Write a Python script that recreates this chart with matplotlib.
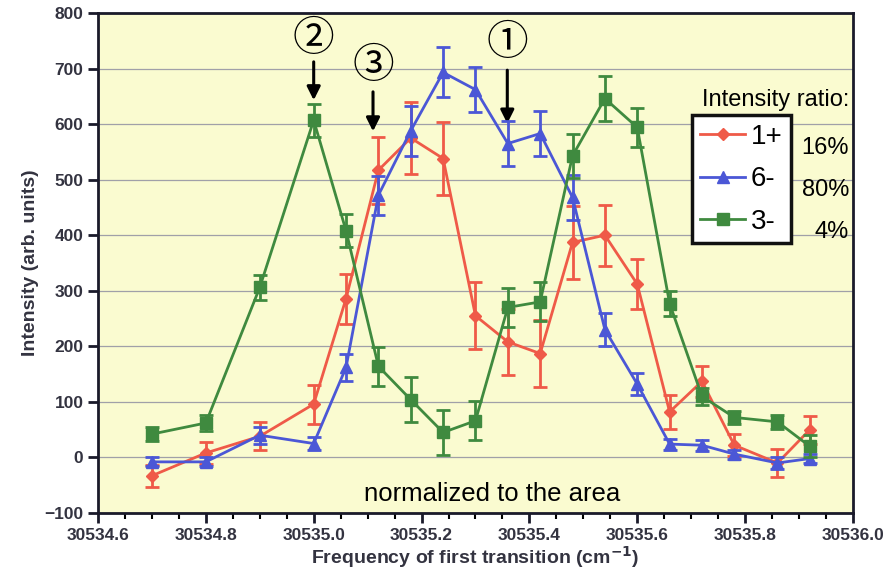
import numpy as np
import matplotlib.pyplot as plt
from matplotlib.lines import Line2D
from matplotlib.ticker import MultipleLocator

plt.rcParams['font.family'] = ['Liberation Sans', 'DejaVu Sans', 'Noto Sans CJK JP']

# frequency of first transition (cm-1)
freq = [30534.70, 30534.80, 30534.90, 30535.00, 30535.06, 30535.12, 30535.18,
        30535.24, 30535.30, 30535.36, 30535.42, 30535.48, 30535.54, 30535.60,
        30535.66, 30535.72, 30535.78, 30535.86, 30535.92]

# 1+ (red diamonds)
y_1p = [-33, 8, 38, 96, 286, 517, 575, 538, 255, 208, 187, 387, 400, 312,
        82, 137, 22, -10, 50]
e_1p = [20, 20, 25, 35, 45, 60, 65, 65, 60, 60, 60, 65, 55, 45, 30, 28, 20, 25, 25]

# 6- (blue triangles)
y_6m = [-8, -8, 40, 25, 162, 472, 588, 693, 662, 565, 583, 468, 230, 132,
        24, 22, 6, -10, -2]
e_6m = [8, 8, 15, 12, 25, 35, 45, 45, 40, 40, 40, 40, 30, 20, 10, 10, 8, 10, 8]

# 3- (green squares)
y_3m = [42, 62, 306, 607, 408, 164, 104, 45, 66, 270, 280, 543, 646, 594,
        277, 110, 72, 64, 20]
e_3m = [12, 15, 22, 30, 30, 35, 40, 40, 35, 35, 35, 40, 40, 35, 22, 15, 12, 12, 20]

labels = ['1+', '6-', '3-']
ratios = ['16%', '80%', '4%']
colors = ['#ef5a48', '#4b57d6', '#3f8a3f']
markers = ['D', '^', 's']
msizes = [6, 8, 9]

fig = plt.figure(figsize=(8.94, 5.84), dpi=100)
ax = fig.add_axes([0.1096, 0.1216, 0.8445, 0.8562])
ax.set_facecolor('#fafbd0')

series = [(y_1p, e_1p), (y_6m, e_6m), (y_3m, e_3m)]
order = [2, 0, 1]
for i in order:
    y, e = series[i]
    ax.errorbar(freq, y, yerr=e, color=colors[i], marker=markers[i], ms=msizes[i],
                lw=2, elinewidth=2, capsize=5, capthick=2, zorder=3 + i)

ax.set_xlim(30534.6, 30536.0)
ax.set_ylim(-100, 800)
ax.xaxis.set_major_locator(MultipleLocator(0.2))
ax.xaxis.set_minor_locator(MultipleLocator(0.05))
ax.yaxis.set_major_locator(MultipleLocator(100))
ax.xaxis.set_major_formatter(plt.FuncFormatter(lambda v, p: f'{v:.1f}'))
ax.grid(axis='y', color='#a0a0a8', lw=0.9)
ax.set_axisbelow(True)
for s in ax.spines.values():
    s.set_linewidth(2)
    s.set_color('#1a1a2a')
ax.tick_params(axis='both', which='major', direction='out', length=7, width=2,
               labelsize=12.5, colors='#1a1a2a')
ax.tick_params(axis='x', which='minor', direction='out', length=4, width=1.5)
for lab in ax.get_xticklabels() + ax.get_yticklabels():
    lab.set_fontweight('bold')
    lab.set_color('#333340')

ax.set_xlabel('Frequency of first transition (cm$^{\\mathbf{-1}}$)', fontsize=14,
              fontweight='bold', color='#333340', labelpad=1)
ax.set_ylabel('Intensity (arb. units)', fontsize=14, fontweight='bold',
              color='#333340', labelpad=4)

handles = [Line2D([], [], color=colors[i], marker=markers[i], ms=msizes[i], lw=2)
           for i in range(3)]
leg = ax.legend(handles, labels, loc='upper left', bbox_to_anchor=(0.787, 0.795),
                fontsize=20, frameon=True, fancybox=False, handlelength=1.6,
                handletextpad=0.2, borderpad=0.3, labelspacing=0.6,
                borderaxespad=0)
leg.get_frame().set_edgecolor('#111111')
leg.get_frame().set_linewidth(2.5)
leg.get_frame().set_facecolor('white')
leg.get_frame().set_alpha(1)

ax.text(0.995, 0.826, 'Intensity ratio:', transform=ax.transAxes, fontsize=17,
        ha='right', va='center')
for k, r in enumerate(ratios):
    ax.text(0.995, 0.73 - k * 0.084, r, transform=ax.transAxes, fontsize=17,
            ha='right', va='center')

ax.text(30535.331, -66, 'normalized to the area', fontsize=18.5, ha='center', va='center')

# peak annotations: circled number, x, circle centre, top of arrow, tip of arrow
notes = [('\u2460', 30535.359, 745, 702, 596), ('\u2461', 30535.00, 753, 717, 638),
         ('\u2462', 30535.11, 704, 663, 582)]
for txt, xv, yc, y0, y1 in notes:
    ax.annotate('', xy=(xv, y1), xytext=(xv, y0),
                arrowprops=dict(arrowstyle='-|>', color='black', lw=2.2,
                                mutation_scale=20))
    ax.text(xv, yc, txt, fontsize=30, ha='center', va='center',
            family='Noto Sans CJK JP')

fig.savefig('out.png', dpi=100)
